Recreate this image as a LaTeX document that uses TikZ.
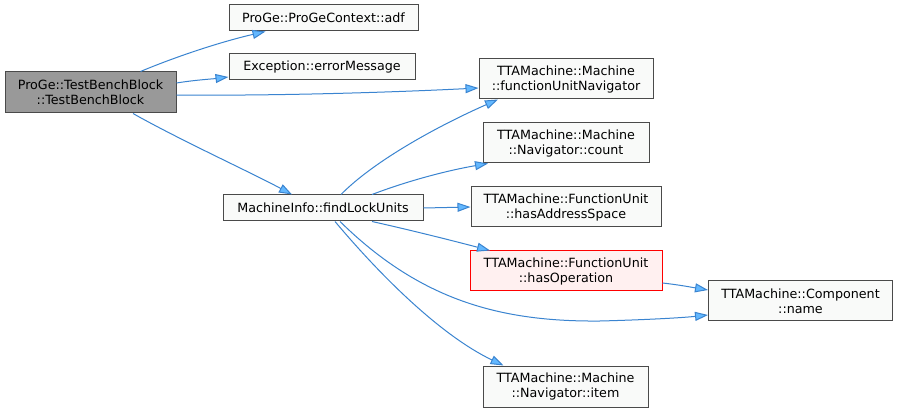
\documentclass[tikz,border=0pt]{standalone}
\usepackage{fontspec}
\setmainfont{DejaVu Sans}
\usetikzlibrary{arrows.meta,calc}
\definecolor{nodefill}{HTML}{F9FAF9}
\definecolor{nodeline}{HTML}{4A4A4A}
\definecolor{mainfill}{HTML}{999999}
\definecolor{hifill}{HTML}{FFF0F0}
\definecolor{edgeline}{HTML}{3A84D0}
\definecolor{arrowfill}{HTML}{63B8FF}
\tikzset{
  fnbox/.style={draw=nodeline, fill=nodefill, line width=1pt, rectangle, inner sep=0pt,
    align=center, font=\fontsize{12.7}{15}\selectfont, text=black},
  call/.style={draw=edgeline, line width=1pt,
    -{Triangle[length=13pt,width=9pt,fill=arrowfill]}},
}
\begin{document}
\begin{tikzpicture}[x=1pt,y=-1pt]
\useasboundingbox[fill=white] (0,0) rectangle (899,411);
\node[fnbox, fill=mainfill, minimum width=171pt, minimum height=41pt] (tbb) at (90.5,92.5) {ProGe::TestBenchBlock\\::TestBenchBlock};
\node[fnbox, minimum width=189pt, minimum height=26pt] (adf) at (323.5,18) {ProGe::ProGeContext::adf};
\node[fnbox, minimum width=186pt, minimum height=26pt] (err) at (322,67) {Exception::errorMessage};
\node[fnbox, minimum width=174pt, minimum height=40pt] (fun) at (566,79) {TTAMachine::Machine\\::functionUnitNavigator};
\node[fnbox, minimum width=166pt, minimum height=40pt] (cnt) at (566,143) {TTAMachine::Machine\\::Navigator::count};
\node[fnbox, minimum width=190pt, minimum height=40pt] (has) at (566,207) {TTAMachine::FunctionUnit\\::hasAddressSpace};
\node[fnbox, minimum width=200pt, minimum height=26pt] (lock) at (323,208) {MachineInfo::findLockUnits};
\node[fnbox, draw=red, fill=hifill, minimum width=192pt, minimum height=40pt] (hop) at (566,271) {TTAMachine::FunctionUnit\\::hasOperation};
\node[fnbox, minimum width=184pt, minimum height=40pt] (nam) at (800.5,301) {TTAMachine::Component\\::name};
\node[fnbox, minimum width=165pt, minimum height=41pt] (itm) at (565.5,386.5) {TTAMachine::Machine\\::Navigator::item};

\draw[call] ($(tbb.north)+(50,0)$) .. controls (175,57) and (220,42) .. ($(adf.south)+(-58,0)$);
\draw[call] ($(tbb.east)+(0,-9.5)$) .. controls (195,80) and (212,79) .. ($(err.west)+(0,10)$);
\draw[call] ($(tbb.east)+(0,2.5)$) .. controls (280,96) and (400,92) .. ($(fun.west)+(0,9)$);
\draw[call] ($(tbb.south)+(42.5,0)$) .. controls (180,140) and (250,172) .. ($(lock.north)+(-31,0)$);
\draw[call] ($(lock.north)+(18,0)$) .. controls (375,160) and (440,125) .. ($(fun.south)+(-68,0)$);
\draw[call] ($(lock.north)+(49,0)$) .. controls (410,180) and (450,170) .. ($(cnt.south)+(-78,0)$);
\draw[call] (lock.east) -- (has.west);
\draw[call] ($(lock.south)+(49,0)$) .. controls (410,230) and (450,240) .. ($(hop.north)+(-76,0)$);
\draw[call] ($(lock.south)+(17,0)$) .. controls (420,300) and (500,322) .. (600,321) .. controls (640,320) and (680,318) .. ($(nam.west)+(0,14)$);
\draw[call] ($(lock.south)+(12,0)$) .. controls (380,275) and (440,335) .. ($(itm.north)+(-62,0)$);
\draw[call] ($(hop.east)+(0,12)$) .. controls (680,285) and (690,287) .. ($(nam.west)+(0,-11)$);
\end{tikzpicture}
\end{document}
